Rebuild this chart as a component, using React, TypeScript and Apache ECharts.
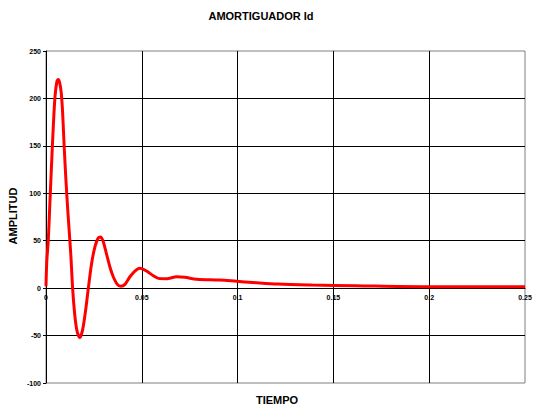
import React, { useEffect, useRef } from "react";
import * as echarts from "echarts";

const TITLE = "AMORTIGUADOR Id";
const X_NAME = "TIEMPO";
const Y_NAME = "AMPLITUD";

const tiempo = [
  0, 0.0004, 0.0012, 0.0021, 0.003, 0.0038, 0.0047, 0.0057, 0.0064, 0.0072,
  0.008, 0.0087, 0.0094, 0.0104, 0.0116, 0.0129, 0.0139, 0.0151, 0.0163, 0.0177,
  0.0191, 0.0207, 0.0221, 0.0238, 0.0256, 0.0273, 0.0285, 0.0299, 0.0317, 0.0334,
  0.0351, 0.0372, 0.0391, 0.0412, 0.0438, 0.0464, 0.049, 0.0525, 0.056, 0.0586,
  0.063, 0.0682, 0.0725, 0.0786, 0.0908, 0.0995, 0.108, 0.121, 0.139, 0.162,
  0.197, 0.25,
];
const amplitud = [
  2, 28, 51, 93, 135, 170, 202, 218, 220, 216,
  205, 184, 153, 114, 75, 37, 0, -30, -46, -52,
  -44, -23, 0, 26, 44, 53, 54, 49, 35, 22,
  12, 4, 2, 4, 12, 18, 21, 18, 13, 10.3,
  10, 12, 11.4, 9.3, 8.5, 7.2, 6, 4.3, 3.3, 2.5,
  1.5, 1.5,
];

const X_MIN = 0;
const X_MAX = 0.25;
const X_STEP = 0.05;
const Y_MIN = -100;
const Y_MAX = 250;
const Y_STEP = 50;

export default function App() {
  const ref = useRef<HTMLDivElement>(null);
  useEffect(() => {
    document.body.style.margin = "0";
    const chart = echarts.init(ref.current!, null, { renderer: "svg" });
    const font = "Arial, 'Liberation Sans', sans-serif";
    const gridTop = 51;
    const gridHeight = 332;
    const zeroOffset = -(gridHeight * (0 - Y_MIN)) / (Y_MAX - Y_MIN);
    chart.setOption({
      animation: false,
      backgroundColor: "#ffffff",
      grid: {
        left: 46,
        top: gridTop,
        width: 479,
        height: gridHeight,
        show: true,
        borderColor: "#808080",
        borderWidth: 1,
        backgroundColor: "transparent",
      },
      xAxis: {
        type: "value",
        min: X_MIN,
        max: X_MAX,
        interval: X_STEP,
        position: "bottom",
        offset: zeroOffset,
        axisLine: { show: true, onZero: false, lineStyle: { color: "#000", width: 1 } },
        axisTick: { show: false },
        axisLabel: {
          color: "#000",
          fontSize: 7,
          fontWeight: "bold",
          fontFamily: font,
          margin: 6,
          showMaxLabel: true,
          showMinLabel: true,
          formatter: (v: number) => String(Number(v.toFixed(3))),
        },
        splitLine: {
          show: true,
          showMinLine: false,
          showMaxLine: false,
          lineStyle: { color: "#000", width: 1 },
        },
      },
      yAxis: {
        type: "value",
        min: Y_MIN,
        max: Y_MAX,
        interval: Y_STEP,
        axisLine: { show: true, onZero: false, lineStyle: { color: "#000", width: 1 } },
        axisTick: { show: true, length: 3, lineStyle: { color: "#000" } },
        axisLabel: {
          color: "#000",
          fontSize: 7,
          fontWeight: "bold",
          fontFamily: font,
          margin: 5,
        },
        splitLine: {
          show: true,
          showMinLine: false,
          showMaxLine: false,
          lineStyle: { color: "#000", width: 1 },
        },
      },
      series: [
        {
          type: "line",
          data: tiempo.map((t, i) => [t, amplitud[i]]),
          symbol: "none",
          smooth: 0.3,
          lineStyle: { color: "#ff0000", width: 3 },
          itemStyle: { color: "#ff0000" },
          z: 5,
        },
      ],
      graphic: [
        {
          type: "text",
          x: 261,
          y: 16,
          style: {
            text: TITLE,
            font: `bold 11px ${font}`,
            fill: "#000",
            textAlign: "center",
            textVerticalAlign: "middle",
          },
        },
        {
          type: "text",
          x: 277,
          y: 400,
          style: {
            text: X_NAME,
            font: `bold 11px ${font}`,
            fill: "#000",
            textAlign: "center",
            textVerticalAlign: "middle",
          },
        },
        {
          type: "text",
          x: 13,
          y: 216,
          rotation: Math.PI / 2,
          style: {
            text: Y_NAME,
            font: `bold 11px ${font}`,
            fill: "#000",
            textAlign: "center",
            textVerticalAlign: "middle",
          },
        },
      ],
    });
    return () => chart.dispose();
  }, []);
  return <div ref={ref} style={{ width: 537, height: 414 }} />;
}
